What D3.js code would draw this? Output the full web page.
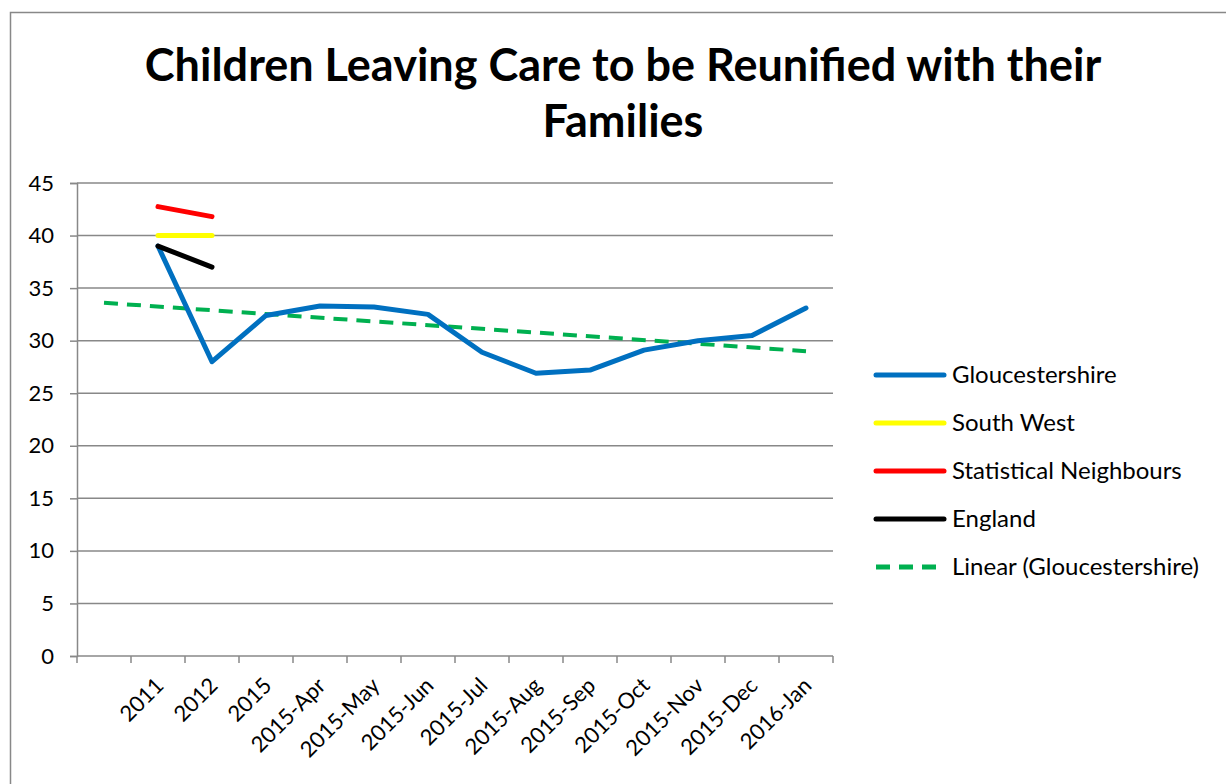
<!DOCTYPE html>
<html>
<head>
<meta charset="utf-8">
<script src="https://cdn.jsdelivr.net/npm/d3@7"></script>
<style>
  body { margin: 0; background: #fff; }
  svg { display: block; font-family: Lato, 'Open Sans', sans-serif; }
</style>
</head>
<body>
<svg id="chart" width="1226" height="784"></svg>
<script>
const categories = ['', '2011', '2012', '2015', '2015-Apr', '2015-May', '2015-Jun', '2015-Jul',
  '2015-Aug', '2015-Sep', '2015-Oct', '2015-Nov', '2015-Dec', '2016-Jan']

const gloucestershire = [null, 39, 28, 32.4, 33.3, 33.2, 32.5, 28.9, 26.9, 27.2, 29.1, 30.0, 30.5, 33.1]
const southWest = [null, 40, 40]
const statNeighbours = [null, 42.75, 41.8]
const england = [null, 39, 37]
// trendline end points (first and last category)
const trendCats = ['', '2016-Jan']
const trendValues = [33.6, 29.0]

const yTicks = [0, 5, 10, 15, 20, 25, 30, 35, 40, 45]

const series = [
  { name: 'Gloucestershire', values: gloucestershire, color: '#0070C0' },
  { name: 'South West', values: southWest, color: '#FFFF00' },
  { name: 'Statistical Neighbours', values: statNeighbours, color: '#FF0000' },
  { name: 'England', values: england, color: '#000000' },
]

const svg = d3.select('#chart')
const margin = { left: 77, top: 183, right: 393, bottom: 128 }
const width = 1226, height = 784
const innerW = width - margin.left - margin.right
const innerH = height - margin.top - margin.bottom

// outer chart border
svg.append('rect')
  .attr('x', 10.5).attr('y', 12.5).attr('width', 1240).attr('height', 800)
  .attr('fill', 'none').attr('stroke', '#888').attr('stroke-width', 1.5)

// title
const title = svg.append('text')
  .attr('text-anchor', 'middle')
  .attr('font-weight', 'bold')
  .attr('font-size', 45)
title.append('tspan').attr('x', 623).attr('y', 81).text('Children Leaving Care to be Reunified with their')
title.append('tspan').attr('x', 623).attr('y', 137).text('Families')

const g = svg.append('g').attr('transform', `translate(${margin.left},${margin.top})`)

const x = d3.scaleBand().domain(categories).range([0, innerW])
const y = d3.scaleLinear().domain([0, 45]).range([innerH, 0])
const cx = (c) => x(c) + x.bandwidth() / 2

// gridlines
g.append('g')
  .selectAll('line')
  .data(yTicks.filter((d) => d > 0))
  .join('line')
  .attr('x1', 0).attr('x2', innerW)
  .attr('y1', (d) => y(d)).attr('y2', (d) => y(d))
  .attr('stroke', '#888').attr('stroke-width', 1.5)

// y axis
const yAxisG = g.append('g')
  .call(d3.axisLeft(y).tickValues(yTicks).tickSize(7).tickPadding(16))
yAxisG.attr('font-family', null).attr('font-size', 22)
yAxisG.selectAll('text').attr('fill', '#000')
yAxisG.select('.domain').attr('stroke', '#888').attr('stroke-width', 1.5)
yAxisG.selectAll('.tick line').attr('stroke', '#888').attr('stroke-width', 1.5)

// x axis: ticks at category boundaries
const xAxisG = g.append('g').attr('transform', `translate(0,${innerH})`)
xAxisG.append('line').attr('x1', 0).attr('x2', innerW).attr('stroke', '#888').attr('stroke-width', 1.5)
xAxisG.selectAll('line.tk')
  .data(d3.range(categories.length + 1))
  .join('line').attr('class', 'tk')
  .attr('x1', (i) => i * x.step()).attr('x2', (i) => i * x.step())
  .attr('y1', 0).attr('y2', 7)
  .attr('stroke', '#888').attr('stroke-width', 1.5)
xAxisG.selectAll('text')
  .data(categories)
  .join('text')
  .attr('text-anchor', 'end')
  .attr('font-size', 22)
  .attr('transform', (d) => `translate(${cx(d) + 7},${31}) rotate(-45)`)
  .text((d) => d)

// series lines
const line = d3.line()
  .defined((d) => d.v != null)
  .x((d) => cx(d.c))
  .y((d) => y(d.v))

// trendline under the data lines
g.append('path')
  .attr('d', line(trendCats.map((c, i) => ({ c, v: trendValues[i] }))))
  .attr('fill', 'none').attr('stroke', '#00B050').attr('stroke-width', 4)
  .attr('stroke-dasharray', '14,9')

series.forEach((s) => {
  g.append('path')
    .attr('d', line(s.values.map((v, i) => ({ c: categories[i], v }))))
    .attr('fill', 'none').attr('stroke', s.color).attr('stroke-width', 5)
    .attr('stroke-linejoin', 'round').attr('stroke-linecap', 'round')
})

// legend
const legendItems = [
  ...series.map((s) => ({ name: s.name, color: s.color, dash: null })),
  { name: 'Linear (Gloucestershire)', color: '#00B050', dash: '14,9' },
]
const lg = svg.append('g').selectAll('g')
  .data(legendItems)
  .join('g')
  .attr('transform', (d, i) => `translate(876,${375 + i * 48})`)
lg.append('line')
  .attr('x1', 0).attr('x2', 68)
  .attr('stroke', (d) => d.color).attr('stroke-width', 5)
  .attr('stroke-linecap', (d) => (d.dash ? 'butt' : 'round'))
  .attr('stroke-dasharray', (d) => d.dash)
lg.append('text')
  .attr('x', 76).attr('y', 8)
  .attr('font-size', 24)
  .text((d) => d.name)
</script>
</body>
</html>
